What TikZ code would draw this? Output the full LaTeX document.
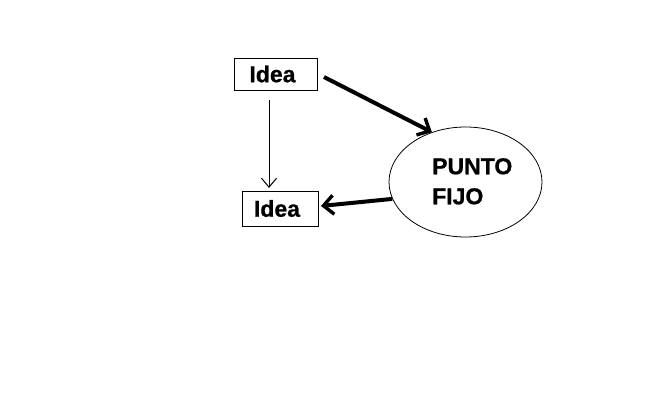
\documentclass[tikz,border=0pt]{standalone}
\usepackage{fontspec}
\setmainfont{Liberation Sans}
\newfontfamily\heavy[BoldFeatures={FakeBold=0.8}]{Liberation Sans}
\usetikzlibrary{arrows.meta,shapes.geometric}
\begin{document}
\begin{tikzpicture}[x=1pt,y=-1pt,
  box/.style={draw,line width=0.8pt,inner sep=0pt,font=\fontsize{23}{26}\heavy\bfseries},
  thickarrow/.style={line width=4pt,-{Straight Barb[length=10pt,width=19pt,line width=3.4pt]}},
  thinarrow/.style={line width=1pt,-{Straight Barb[length=9pt,width=15pt,line width=1pt]}}]
\useasboundingbox[fill=white] (0,0) rectangle (671,411);
\node[box,minimum width=83pt,minimum height=32pt] (b1) at (275.5,74) {\hspace*{-6pt}Idea};
\node[box,minimum width=76pt,minimum height=35pt] (b2) at (280,208.5) {\hspace*{-6pt}Idea};
\node[draw,ellipse,line width=0.8pt,minimum width=153pt,minimum height=110pt] (e) at (465.5,182) {};
\node[font=\fontsize{23}{30}\heavy\bfseries,align=left,anchor=north west,inner sep=0pt] (t) at (432,158) {PUNTO\\FIJO};
\coordinate (a1s) at (324,77);
\coordinate (a2s) at (269,100);
\coordinate (a2e) at (269,188);
\coordinate (a3e) at (321,206);
\draw[thickarrow] (a1s) -- (e.124);
\draw[thinarrow] (a2s) -- (a2e);
\draw[thickarrow] (e.193) -- (a3e);
\end{tikzpicture}
\end{document}
